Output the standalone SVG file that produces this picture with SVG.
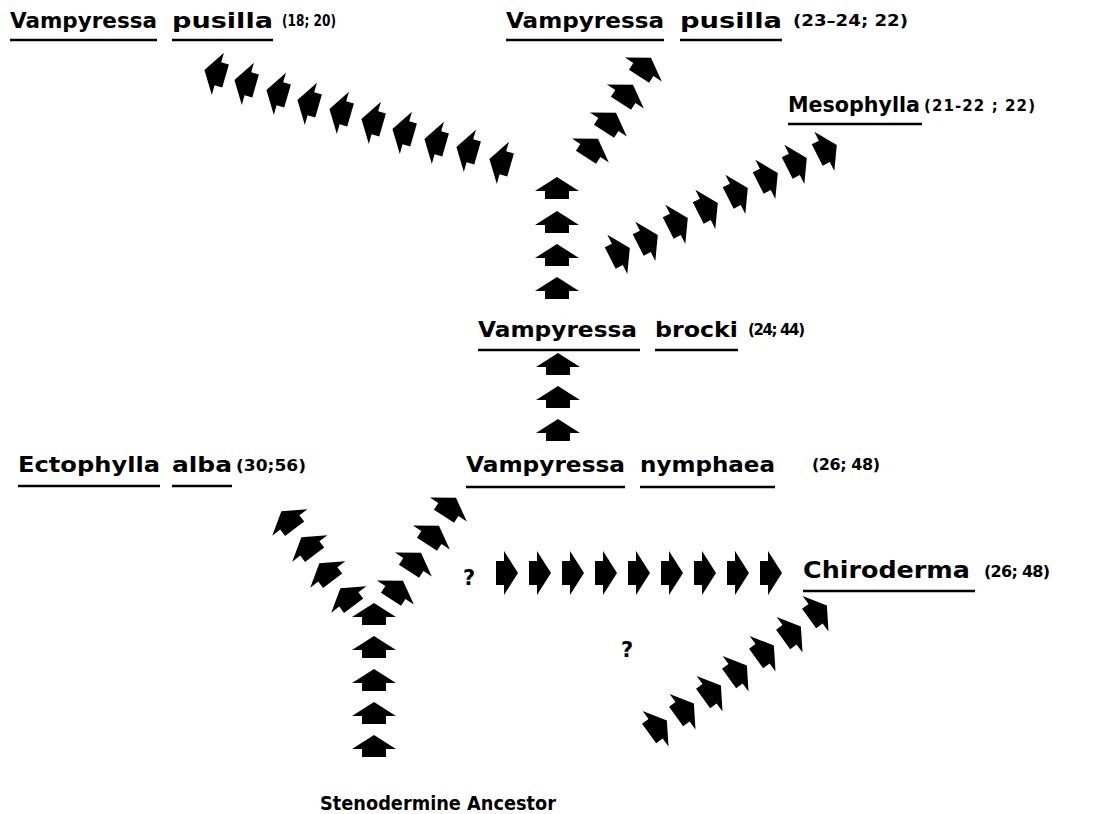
<svg xmlns="http://www.w3.org/2000/svg" width="1116" height="814" viewBox="0 0 1116 814">
<style>
.t{font-family:"DejaVu Sans","Liberation Sans",sans-serif;font-weight:bold;font-size:22px;fill:#000}
.n{font-family:"DejaVu Sans","Liberation Sans",sans-serif;font-weight:bold;font-size:15px;fill:#000}
.q{font-family:"DejaVu Sans","Liberation Sans",sans-serif;font-weight:bold;font-size:21px;fill:#000}
.u{stroke:#000;stroke-width:2.5}
</style>
<defs>
<path id="a" d="M0,-11 L22,3 L12,3 L12,11 L-12,11 L-12,3 L-22,3 Z" fill="#000"/>
</defs>
<rect width="1116" height="814" fill="#fff"/>
<g id="vpusilla1">
<text class="t" x="10" y="28" textLength="147" lengthAdjust="spacingAndGlyphs">Vampyressa</text>
<text class="t" x="172" y="28" textLength="101" lengthAdjust="spacingAndGlyphs">pusilla</text>
<text class="n" x="282" y="26" textLength="54" lengthAdjust="spacingAndGlyphs">(18; 20)</text>
<line class="u" x1="10" y1="40" x2="157" y2="40"/>
<line class="u" x1="172" y1="40" x2="273" y2="40"/>
</g>
<g id="vpusilla2">
<text class="t" x="506" y="28" textLength="158" lengthAdjust="spacingAndGlyphs">Vampyressa</text>
<text class="t" x="680" y="28" textLength="102" lengthAdjust="spacingAndGlyphs">pusilla</text>
<text class="n" x="793" y="26" textLength="115" lengthAdjust="spacingAndGlyphs" style="font-size:16px">(23–24; 22)</text>
<line class="u" x1="506" y1="40" x2="664" y2="40"/>
<line class="u" x1="680" y1="40" x2="782" y2="40"/>
</g>
<g id="mesophylla">
<text class="t" x="788" y="112" textLength="132" lengthAdjust="spacingAndGlyphs">Mesophylla</text>
<text class="n" x="924" y="111" textLength="111" lengthAdjust="spacing">(21-22 ; 22)</text>
<line class="u" x1="788" y1="124" x2="922" y2="124"/>
</g>
<g id="vbrocki">
<text class="t" x="478" y="337" textLength="159" lengthAdjust="spacingAndGlyphs">Vampyressa</text>
<text class="t" x="655" y="337" textLength="83" lengthAdjust="spacingAndGlyphs">brocki</text>
<text class="n" x="748" y="335" textLength="57" lengthAdjust="spacing">(24; 44)</text>
<line class="u" x1="478" y1="350" x2="640" y2="350"/>
<line class="u" x1="655" y1="350" x2="738" y2="350"/>
</g>
<g id="ectophylla">
<text class="t" x="18" y="472" textLength="142" lengthAdjust="spacingAndGlyphs">Ectophylla</text>
<text class="t" x="172" y="472" textLength="60" lengthAdjust="spacingAndGlyphs">alba</text>
<text class="n" x="236" y="471" textLength="70" lengthAdjust="spacingAndGlyphs">(30;56)</text>
<line class="u" x1="18" y1="486" x2="160" y2="486"/>
<line class="u" x1="172" y1="486" x2="232" y2="486"/>
</g>
<g id="vnymphaea">
<text class="t" x="466" y="472" textLength="159" lengthAdjust="spacingAndGlyphs">Vampyressa</text>
<text class="t" x="640" y="472" textLength="135" lengthAdjust="spacingAndGlyphs">nymphaea</text>
<text class="n" x="812" y="470" textLength="68" lengthAdjust="spacing" style="font-size:16px">(26; 48)</text>
<line class="u" x1="466" y1="487" x2="625" y2="487"/>
<line class="u" x1="640" y1="487" x2="775" y2="487"/>
</g>
<g id="chiroderma">
<text class="t" x="803" y="578" textLength="167" lengthAdjust="spacingAndGlyphs" style="font-size:23px">Chiroderma</text>
<text class="n" x="984" y="577" textLength="66" lengthAdjust="spacing" style="font-size:16px">(26; 48)</text>
<line class="u" x1="803" y1="591" x2="975" y2="591"/>
</g>
<g id="ancestor">
<text class="t" x="320" y="810" textLength="236" lengthAdjust="spacingAndGlyphs" style="font-size:20px">Stenodermine Ancestor</text>
</g>
<g id="q1"><text class="q" x="463" y="585">?</text></g>
<g id="q2"><text class="q" x="621" y="657">?</text></g>
<g id="connectors">
<use href="#a" transform="translate(557,188)"/>
<use href="#a" transform="translate(557,222)"/>
<use href="#a" transform="translate(557,255)"/>
<use href="#a" transform="translate(557,288)"/>
<use href="#a" transform="translate(558,364)"/>
<use href="#a" transform="translate(558,397)"/>
<use href="#a" transform="translate(558,430)"/>
<use href="#a" transform="translate(374,614)"/>
<use href="#a" transform="translate(374,647)"/>
<use href="#a" transform="translate(374,680)"/>
<use href="#a" transform="translate(374,713)"/>
<use href="#a" transform="translate(374,746)"/>
<use href="#a" transform="translate(215,73) rotate(-74)"/>
<use href="#a" transform="translate(245,83) rotate(-74)"/>
<use href="#a" transform="translate(277,93) rotate(-74)"/>
<use href="#a" transform="translate(308,103) rotate(-74)"/>
<use href="#a" transform="translate(340,112) rotate(-74)"/>
<use href="#a" transform="translate(372,122) rotate(-74)"/>
<use href="#a" transform="translate(403,132) rotate(-74)"/>
<use href="#a" transform="translate(435,142) rotate(-74)"/>
<use href="#a" transform="translate(467,150) rotate(-74)"/>
<use href="#a" transform="translate(500,162) rotate(-74)"/>
<use href="#a" transform="translate(592,148) rotate(33)"/>
<use href="#a" transform="translate(610,122) rotate(33)"/>
<use href="#a" transform="translate(627,94) rotate(33)"/>
<use href="#a" transform="translate(645,67) rotate(33)"/>
<use href="#a" transform="translate(620,253) rotate(63)"/>
<use href="#a" transform="translate(648,240) rotate(63)"/>
<use href="#a" transform="translate(678,223) rotate(63)"/>
<use href="#a" transform="translate(708,208) rotate(63)"/>
<use href="#a" transform="translate(738,193) rotate(63)"/>
<use href="#a" transform="translate(768,178) rotate(63)"/>
<use href="#a" transform="translate(797,163) rotate(63)"/>
<use href="#a" transform="translate(827,150) rotate(63)"/>
<use href="#a" transform="translate(288,520) rotate(-37)"/>
<use href="#a" transform="translate(308,546) rotate(-37)"/>
<use href="#a" transform="translate(326,572) rotate(-37)"/>
<use href="#a" transform="translate(347,597) rotate(-37)"/>
<use href="#a" transform="translate(397,590) rotate(33)"/>
<use href="#a" transform="translate(415,562) rotate(33)"/>
<use href="#a" transform="translate(433,535) rotate(33)"/>
<use href="#a" transform="translate(450,507) rotate(33)"/>
<use href="#a" transform="translate(507,573) rotate(90)"/>
<use href="#a" transform="translate(540,573) rotate(90)"/>
<use href="#a" transform="translate(573,573) rotate(90)"/>
<use href="#a" transform="translate(606,573) rotate(90)"/>
<use href="#a" transform="translate(639,573) rotate(90)"/>
<use href="#a" transform="translate(672,573) rotate(90)"/>
<use href="#a" transform="translate(705,573) rotate(90)"/>
<use href="#a" transform="translate(738,573) rotate(90)"/>
<use href="#a" transform="translate(771,573) rotate(90)"/>
<use href="#a" transform="translate(658,727) rotate(54)"/>
<use href="#a" transform="translate(685,710) rotate(54)"/>
<use href="#a" transform="translate(712,692) rotate(54)"/>
<use href="#a" transform="translate(738,672) rotate(54)"/>
<use href="#a" transform="translate(765,652) rotate(54)"/>
<use href="#a" transform="translate(792,633) rotate(54)"/>
<use href="#a" transform="translate(818,612) rotate(54)"/>
</g>
</svg>
